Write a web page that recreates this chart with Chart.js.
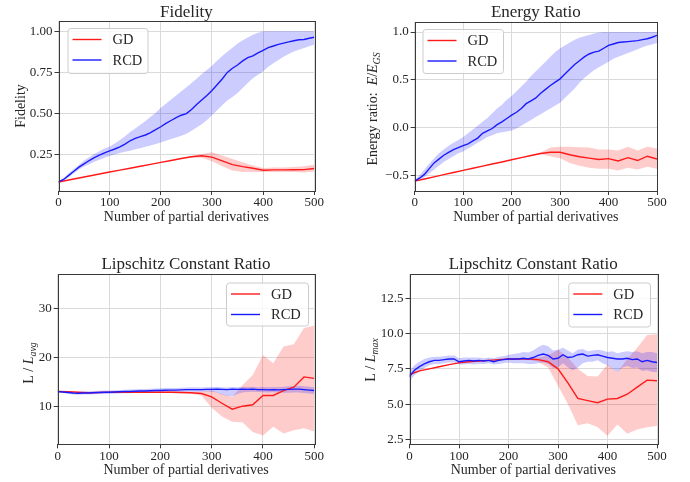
<!DOCTYPE html>
<html>
<head>
<meta charset="utf-8">
<script src="https://cdn.jsdelivr.net/npm/chart.js@4.4.1/dist/chart.umd.min.js"></script>
<style>
  body { margin: 0; background: #fff; }
  #wrap { position: relative; width: 690px; height: 482px; overflow: hidden; }
  canvas { position: absolute; }
</style>
</head>
<body>
<div id="wrap">
  <canvas id="fid" width="345" height="241" style="left:0;top:0"></canvas>
  <canvas id="energy" width="345" height="241" style="left:345px;top:0"></canvas>
  <canvas id="lipAvg" width="345" height="241" style="left:0;top:241px"></canvas>
  <canvas id="lipMax" width="345" height="241" style="left:345px;top:241px"></canvas>
</div>
<script>
// partial derivative counts where each run was logged
var gdSteps = [0, 20, 40, 60, 80, 100, 120, 140, 160, 180, 200, 220, 240, 260, 280, 300, 320, 340, 360, 380, 400, 420, 440, 460, 480, 500];
var rcdSteps = [0, 10, 20, 30, 40, 50, 60, 70, 80, 90, 100, 110, 120, 130, 140, 150, 160, 170, 180, 190, 200,
  210, 220, 230, 240, 250, 260, 270, 280, 290, 300, 310, 320, 330, 340, 350, 360, 370, 380, 390, 400,
  410, 420, 430, 440, 450, 460, 470, 480, 490, 500];
var xTicks = [0, 100, 200, 300, 400, 500];

// fidelity
var fidGdMean = [0.085, 0.097, 0.109, 0.121, 0.133, 0.145, 0.157, 0.168, 0.18, 0.192, 0.204, 0.215, 0.227, 0.238, 0.244, 0.236, 0.213, 0.19, 0.178, 0.168, 0.156, 0.158, 0.158, 0.159, 0.16, 0.167];
var fidGdHi = [0.086, 0.098, 0.110, 0.122, 0.134, 0.146, 0.158, 0.170, 0.182, 0.194, 0.206, 0.218, 0.230, 0.243, 0.255, 0.265, 0.245, 0.225, 0.205, 0.185, 0.17, 0.172, 0.173, 0.175, 0.18, 0.19];
var fidGdLo = [0.084, 0.096, 0.108, 0.120, 0.132, 0.144, 0.156, 0.166, 0.178, 0.190, 0.202, 0.212, 0.224, 0.233, 0.232, 0.21, 0.18, 0.155, 0.145, 0.145, 0.145, 0.145, 0.145, 0.145, 0.143, 0.148];
var fidRcdMean = [0.085, 0.10, 0.125, 0.15, 0.175, 0.195, 0.215, 0.232, 0.248, 0.262, 0.274, 0.285, 0.298, 0.315, 0.335, 0.35, 0.36, 0.37, 0.385, 0.402, 0.42,
  0.44, 0.458, 0.475, 0.49, 0.5, 0.525, 0.555, 0.582, 0.61, 0.64, 0.675, 0.71, 0.75, 0.775, 0.795, 0.82, 0.84, 0.85, 0.868, 0.884,
  0.9, 0.91, 0.92, 0.928, 0.935, 0.942, 0.948, 0.95, 0.957, 0.963];
var fidRcdHi = [0.09, 0.107, 0.137, 0.163, 0.19, 0.215, 0.235, 0.255, 0.272, 0.288, 0.3, 0.318, 0.34, 0.362, 0.388, 0.41, 0.432, 0.455, 0.48, 0.505, 0.535,
  0.56, 0.585, 0.61, 0.635, 0.66, 0.685, 0.712, 0.74, 0.765, 0.79, 0.82, 0.85, 0.875, 0.9, 0.925, 0.945, 0.962, 0.978, 0.99, 1.0,
  1.0, 1.0, 1.0, 1.0, 1.0, 1.0, 1.0, 1.0, 1.0, 1.0];
var fidRcdLo = [0.08, 0.093, 0.113, 0.137, 0.16, 0.178, 0.193, 0.207, 0.22, 0.232, 0.243, 0.252, 0.26, 0.268, 0.275, 0.283, 0.29, 0.298, 0.306, 0.315, 0.325,
  0.335, 0.345, 0.355, 0.365, 0.378, 0.395, 0.415, 0.435, 0.46, 0.49, 0.52, 0.55, 0.58, 0.6, 0.625, 0.655, 0.685, 0.715, 0.735, 0.755,
  0.785, 0.805, 0.825, 0.845, 0.862, 0.877, 0.888, 0.898, 0.908, 0.918];

// energy ratio E / E_GS
var enGdMean = [-0.56, -0.538, -0.516, -0.493, -0.47, -0.448, -0.426, -0.404, -0.382, -0.36, -0.337, -0.315, -0.293, -0.271, -0.258, -0.258, -0.285, -0.305, -0.32, -0.335, -0.325, -0.35, -0.315, -0.345, -0.3, -0.33];
var enGdHi = [-0.557, -0.535, -0.513, -0.49, -0.467, -0.445, -0.423, -0.401, -0.379, -0.357, -0.334, -0.311, -0.288, -0.26, -0.21, -0.2, -0.2, -0.205, -0.21, -0.23, -0.23, -0.24, -0.2, -0.24, -0.2, -0.22];
var enGdLo = [-0.563, -0.541, -0.519, -0.496, -0.473, -0.451, -0.429, -0.407, -0.385, -0.363, -0.34, -0.319, -0.298, -0.28, -0.3, -0.32, -0.37, -0.4, -0.42, -0.43, -0.43, -0.45, -0.42, -0.44, -0.41, -0.43];
var enRcdMean = [-0.56, -0.53, -0.49, -0.43, -0.37, -0.33, -0.29, -0.26, -0.23, -0.21, -0.19, -0.17, -0.14, -0.11, -0.06, -0.035, -0.01, 0.03, 0.06, 0.095, 0.13,
  0.16, 0.2, 0.25, 0.28, 0.31, 0.36, 0.4, 0.44, 0.475, 0.51, 0.56, 0.61, 0.66, 0.70, 0.74, 0.77, 0.79, 0.80, 0.83, 0.86,
  0.875, 0.89, 0.895, 0.90, 0.905, 0.91, 0.92, 0.93, 0.945, 0.965];
var enRcdHi = [-0.55, -0.5, -0.44, -0.38, -0.32, -0.27, -0.23, -0.19, -0.16, -0.13, -0.1, -0.06, -0.02, 0.02, 0.06, 0.1, 0.15, 0.2, 0.24, 0.29, 0.33,
  0.38, 0.43, 0.48, 0.54, 0.59, 0.64, 0.69, 0.74, 0.79, 0.83, 0.86, 0.89, 0.92, 0.94, 0.955, 0.97, 0.985, 0.995, 1.0, 1.0,
  1.0, 1.0, 1.0, 1.0, 1.0, 1.0, 1.0, 1.0, 1.0, 1.0];
var enRcdLo = [-0.57, -0.55, -0.52, -0.48, -0.44, -0.4, -0.36, -0.33, -0.3, -0.27, -0.25, -0.22, -0.19, -0.16, -0.13, -0.1, -0.08, -0.06, -0.05, -0.04, -0.03,
  -0.01, 0.02, 0.05, 0.08, 0.11, 0.14, 0.17, 0.2, 0.23, 0.26, 0.31, 0.36, 0.41, 0.47, 0.52, 0.56, 0.6, 0.63, 0.66, 0.69,
  0.72, 0.74, 0.76, 0.78, 0.8, 0.82, 0.84, 0.86, 0.87, 0.885];

// Lipschitz constant ratio L / L_avg
var avgGdMean = [13.1, 13.05, 12.95, 12.85, 12.9, 12.95, 12.95, 12.95, 12.95, 12.95, 12.95, 12.95, 12.9, 12.85, 12.7, 12.0, 10.7, 9.5, 10.1, 10.4, 12.3, 12.3, 13.3, 14.0, 16.1, 15.8];
var avgGdHi = [13.12, 13.08, 12.98, 12.9, 12.95, 13.0, 13.0, 13.0, 13.0, 13.02, 13.03, 13.05, 13.05, 13.05, 13.1, 13.3, 12.6, 12.0, 14.4, 16.5, 20.6, 18.9, 22.3, 22.8, 26.1, 26.6];
var avgGdLo = [13.08, 13.02, 12.92, 12.8, 12.85, 12.9, 12.9, 12.9, 12.9, 12.88, 12.87, 12.85, 12.75, 12.65, 12.3, 9.8, 8.0, 6.9, 6.8, 4.8, 4.1, 5.9, 4.5, 5.2, 5.6, 4.9];
var avgRcdMean = [13.1, 13.0, 12.9, 12.8, 12.75, 12.8, 12.8, 12.85, 12.9, 12.95, 12.95, 13.0, 13.05, 13.1, 13.1, 13.15, 13.2, 13.2, 13.25, 13.3, 13.3,
  13.35, 13.4, 13.4, 13.45, 13.5, 13.5, 13.5, 13.5, 13.55, 13.55, 13.6, 13.55, 13.5, 13.6, 13.55, 13.6, 13.55, 13.6, 13.5, 13.5,
  13.45, 13.5, 13.45, 13.5, 13.55, 13.6, 13.6, 13.5, 13.4, 13.3];
var avgRcdHi = [13.15, 13.2, 13.15, 13.1, 13.05, 13.1, 13.15, 13.2, 13.25, 13.3, 13.3, 13.35, 13.4, 13.45, 13.5, 13.55, 13.6, 13.6, 13.65, 13.7, 13.75,
  13.8, 13.85, 13.85, 13.9, 13.95, 14.0, 14.0, 13.95, 14.0, 14.05, 14.1, 14.0, 13.95, 14.05, 14.0, 14.1, 14.05, 14.1, 14.0, 14.05,
  14.0, 14.05, 14.0, 14.1, 14.2, 14.25, 14.3, 14.2, 14.1, 14.0];
var avgRcdLo = [13.0, 12.8, 12.65, 12.5, 12.45, 12.5, 12.5, 12.55, 12.6, 12.6, 12.6, 12.65, 12.7, 12.75, 12.75, 12.8, 12.8, 12.85, 12.85, 12.9, 12.9,
  12.95, 12.95, 13.0, 13.0, 13.05, 13.05, 13.05, 13.05, 13.1, 13.05, 12.9, 12.5, 12.2, 12.1, 12.6, 12.9, 13.0, 13.05, 13.0, 12.95,
  12.9, 12.95, 12.9, 12.85, 12.85, 12.9, 12.9, 12.8, 12.7, 12.6];

// Lipschitz constant ratio L / L_max
var maxGdMean = [7.1, 7.35, 7.5, 7.65, 7.8, 7.92, 8.0, 8.05, 8.1, 8.15, 8.2, 8.2, 8.2, 8.15, 8.0, 7.5, 6.5, 5.4, 5.25, 5.1, 5.35, 5.4, 5.7, 6.2, 6.7, 6.65];
var maxGdHi = [7.12, 7.38, 7.53, 7.68, 7.83, 7.95, 8.03, 8.08, 8.13, 8.18, 8.23, 8.24, 8.26, 8.3, 8.45, 8.85, 8.3, 7.5, 7.0, 6.95, 7.8, 7.25, 8.2, 9.0, 9.9, 9.95];
var maxGdLo = [7.08, 7.32, 7.47, 7.62, 7.77, 7.89, 7.97, 8.02, 8.07, 8.12, 8.17, 8.16, 8.14, 8.0, 7.6, 6.3, 5.0, 3.5, 3.65, 3.35, 2.75, 3.55, 2.9, 3.2, 3.35, 3.45];
var maxRcdMean = [6.95, 7.4, 7.65, 7.85, 8.0, 8.1, 8.1, 8.15, 8.2, 8.2, 8.0, 8.05, 8.1, 8.05, 8.1, 8.05, 8.1, 8.0, 8.1, 8.15, 8.2,
  8.2, 8.2, 8.25, 8.2, 8.3, 8.45, 8.55, 8.45, 8.2, 8.25, 8.5, 8.3, 8.35, 8.5, 8.55, 8.4, 8.45, 8.5, 8.4, 8.3,
  8.25, 8.2, 8.2, 8.25, 8.15, 8.2, 8.0, 8.1, 8.0, 7.95];
var maxRcdHi = [7.35, 7.75, 8.0, 8.2, 8.3, 8.35, 8.35, 8.4, 8.45, 8.45, 8.25, 8.3, 8.3, 8.3, 8.3, 8.25, 8.3, 8.25, 8.35, 8.4, 8.5,
  8.55, 8.6, 8.7, 8.65, 8.8, 9.05, 9.2, 9.1, 8.8, 8.85, 9.0, 8.8, 8.6, 8.85, 8.9, 8.75, 8.8, 8.85, 8.8, 8.7,
  8.75, 8.6, 8.7, 8.75, 8.7, 8.75, 8.6, 8.7, 8.7, 8.6];
var maxRcdLo = [6.6, 7.05, 7.3, 7.55, 7.75, 7.85, 7.85, 7.9, 7.95, 7.95, 7.8, 7.8, 7.85, 7.8, 7.85, 7.85, 7.9, 7.8, 7.85, 7.9, 7.95,
  7.9, 7.9, 7.9, 7.85, 7.85, 7.9, 7.95, 7.85, 7.55, 7.6, 7.9, 7.6, 7.4, 7.6, 7.9, 8.0, 8.0, 8.1, 7.9, 7.75,
  7.5, 7.25, 7.6, 7.7, 7.55, 7.6, 7.35, 7.4, 7.3, 7.25];

var fidTicks = [0.25, 0.5, 0.75, 1.0];
var fidTickLabels = ['0.25', '0.50', '0.75', '1.00'];
var enTicks = [-0.5, 0, 0.5, 1.0];
var enTickLabels = ['\u22120.5', '0.0', '0.5', '1.0'];
var avgTicks = [10, 20, 30];
var avgTickLabels = ['10', '20', '30'];
var maxTicks = [2.5, 5, 7.5, 10, 12.5];
var maxTickLabels = ['2.5', '5.0', '7.5', '10.0', '12.5'];

var seriesNames = ['GD', 'RCD'];
var RED = '#ff1a1a';
var BLUE = '#1a1aff';
var SERIF = '"Liberation Serif", "DejaVu Serif", serif';
var INK = '#262626';

function pts(xs, ys) {
  return xs.map(function (x, i) { return { x: x, y: ys[i] }; });
}

function band(data, fill, order) {
  return {
    data: data, fill: fill ? fill.target : false, backgroundColor: fill ? fill.color : 'transparent',
    borderWidth: 0, pointRadius: 0, tension: 0, order: order
  };
}

// draws rotated text made of plain / italic / subscript parts
function drawParts(ctx, parts, cx, cy, size) {
  ctx.save();
  ctx.translate(cx, cy);
  ctx.rotate(-Math.PI / 2);
  ctx.fillStyle = INK;
  ctx.textBaseline = 'alphabetic';
  ctx.textAlign = 'left';
  var fontOf = function (p) {
    var s = p.sub ? size * 0.7 : size;
    return (p.it ? 'italic ' : '') + s + 'px ' + SERIF;
  };
  var total = 0;
  parts.forEach(function (p) { ctx.font = fontOf(p); total += ctx.measureText(p.t).width; });
  var x = -total / 2;
  parts.forEach(function (p) {
    ctx.font = fontOf(p);
    ctx.fillText(p.t, x, size * 0.35 + (p.sub ? size * 0.22 : 0));
    x += ctx.measureText(p.t).width;
  });
  ctx.restore();
}

var decor = {
  id: 'decor',
  afterDraw: function (chart, args, o) {
    var ctx = chart.ctx;
    var a = chart.chartArea;
    ctx.save();
    // axes frame
    ctx.strokeStyle = '#3a3a3a';
    ctx.lineWidth = 1;
    ctx.strokeRect(Math.round(a.left) + 0.5, Math.round(a.top) + 0.5, Math.round(a.right - a.left), Math.round(a.bottom - a.top));

    // title
    ctx.fillStyle = INK;
    ctx.font = '17px ' + SERIF;
    ctx.textAlign = 'center';
    ctx.textBaseline = 'middle';
    ctx.fillText(o.title, (a.left + a.right) / 2, o.titleY);

    drawParts(ctx, o.yTitle, o.yTitleX, o.yTitleY, 14);

    // legend
    var L = o.legend;
    ctx.fillStyle = 'rgba(255,255,255,0.8)';
    ctx.strokeStyle = '#cccccc';
    ctx.beginPath();
    ctx.roundRect(L.x + 0.5, L.y + 0.5, L.w, L.h, 3);
    ctx.fill();
    ctx.stroke();
    var colors = [RED, BLUE];
    var rows = [L.y + 11.5, L.y + 32];
    ctx.font = '14.5px ' + SERIF;
    ctx.textAlign = 'left';
    ctx.textBaseline = 'middle';
    for (var i = 0; i < seriesNames.length; i++) {
      ctx.strokeStyle = colors[i];
      ctx.lineWidth = 1.4;
      ctx.beginPath();
      ctx.moveTo(L.x + 5, rows[i]);
      ctx.lineTo(L.x + 34, rows[i]);
      ctx.stroke();
      ctx.fillStyle = INK;
      ctx.fillText(seriesNames[i], L.x + 45, rows[i] + 1);
    }
    ctx.restore();
  }
};

function makePanel(id, p) {
  var tickFont = { family: SERIF, size: 13 };
  var datasets = [
    band(pts(gdSteps, p.gd[1]), { target: '+1', color: 'rgba(255,0,0,0.2)' }, 4),
    band(pts(gdSteps, p.gd[2]), null, 4),
    band(pts(rcdSteps, p.rcd[1]), { target: '+1', color: 'rgba(0,0,255,0.2)' }, 3),
    band(pts(rcdSteps, p.rcd[2]), null, 3),
    { label: seriesNames[0], data: pts(gdSteps, p.gd[0]), borderColor: RED, borderWidth: 1.4, pointRadius: 0, tension: 0, fill: false, order: 1 },
    { label: seriesNames[1], data: pts(rcdSteps, p.rcd[0]), borderColor: BLUE, borderWidth: 1.4, pointRadius: 0, tension: 0, fill: false, order: 0 }
  ];

  return new Chart(document.getElementById(id), {
    type: 'line',
    data: { datasets: datasets },
    plugins: [decor],
    options: {
      responsive: false,
      animation: false,
      events: [],
      layout: { padding: { left: 0, top: p.top, right: p.right, bottom: p.bottom } },
      plugins: {
        legend: { display: false },
        tooltip: { enabled: false },
        decor: p.decor
      },
      scales: {
        x: {
          type: 'linear', min: 0, max: 500,
          afterBuildTicks: function (s) { s.ticks = xTicks.map(function (v) { return { value: v }; }); },
          afterFit: function (s) { s.height = p.xHeight; },
          ticks: { font: tickFont, color: INK, padding: 0, maxRotation: 0, autoSkip: false, callback: function (v) { return String(v); } },
          grid: { color: '#dadada', tickColor: '#3a3a3a', tickLength: 4 },
          border: { display: false },
          title: { display: true, text: 'Number of partial derivatives', color: INK, font: { family: SERIF, size: 14 }, padding: { top: 0, bottom: 3 } }
        },
        y: {
          type: 'linear', min: p.yMin, max: p.yMax,
          afterBuildTicks: function (s) { s.ticks = p.yTicks.map(function (v) { return { value: v }; }); },
          afterFit: function (s) { s.width = p.yWidth; },
          ticks: { font: tickFont, color: INK, padding: 2, autoSkip: false, callback: function (v, i) { return p.yTickLabels[i]; } },
          grid: { color: '#dadada', tickColor: '#3a3a3a', tickLength: 4 },
          border: { display: false }
        }
      }
    }
  });
}

makePanel('fid', {
  gd: [fidGdMean, fidGdHi, fidGdLo], rcd: [fidRcdMean, fidRcdHi, fidRcdLo],
  yMin: 0.03, yMax: 1.062, yTicks: fidTicks, yTickLabels: fidTickLabels,
  top: 21, right: 30.7, bottom: 12.3, xHeight: 37.7, yWidth: 58.5,
  decor: {
    title: 'Fidelity', titleY: 12.5,
    yTitle: [{ t: 'Fidelity' }], yTitleX: 20, yTitleY: 106,
    legend: { x: 67.5, y: 28, w: 80, h: 45 }
  }
});

makePanel('energy', {
  gd: [enGdMean, enGdHi, enGdLo], rcd: [enRcdMean, enRcdHi, enRcdLo],
  yMin: -0.664, yMax: 1.108, yTicks: enTicks, yTickLabels: enTickLabels,
  top: 21.7, right: 33, bottom: 12.3, xHeight: 37.7, yWidth: 69.7,
  decor: {
    title: 'Energy Ratio', titleY: 12.5,
    yTitle: [{ t: 'Energy ratio:  ' }, { t: 'E', it: true }, { t: '/' }, { t: 'E', it: true }, { t: 'GS', it: true, sub: true }],
    yTitleX: 27, yTitleY: 109,
    legend: { x: 77.5, y: 29, w: 80.5, h: 44 }
  }
});

makePanel('lipAvg', {
  gd: [avgGdMean, avgGdHi, avgGdLo], rcd: [avgRcdMean, avgRcdHi, avgRcdLo],
  yMin: 2.3, yMax: 37.1, yTicks: avgTicks, yTickLabels: avgTickLabels,
  top: 33.3, right: 30.7, bottom: 0.3, xHeight: 37.4, yWidth: 57.7,
  decor: {
    title: 'Lipschitz Constant Ratio', titleY: 24,
    yTitle: [{ t: 'L / ' }, { t: 'L', it: true }, { t: 'avg', it: true, sub: true }],
    yTitleX: 28, yTitleY: 122,
    legend: { x: 226, y: 41.5, w: 82, h: 43 }
  }
});

makePanel('lipMax', {
  gd: [maxGdMean, maxGdHi, maxGdLo], rcd: [maxRcdMean, maxRcdHi, maxRcdLo],
  yMin: 2.15, yMax: 14.2, yTicks: maxTicks, yTickLabels: maxTickLabels,
  top: 33.3, right: 33, bottom: 0.3, xHeight: 37.4, yWidth: 64.5,
  decor: {
    title: 'Lipschitz Constant Ratio', titleY: 24,
    yTitle: [{ t: 'L / ' }, { t: 'L', it: true }, { t: 'max', it: true, sub: true }],
    yTitleX: 25, yTitleY: 119,
    legend: { x: 223.3, y: 41.5, w: 81.7, h: 44 }
  }
});
</script>
</body>
</html>
